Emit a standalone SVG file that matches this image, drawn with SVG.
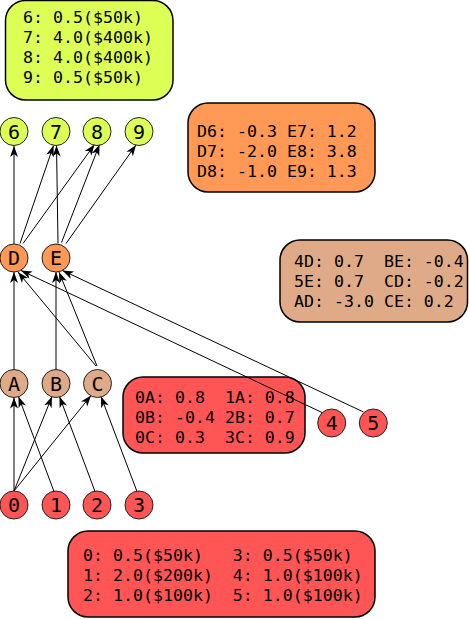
<svg xmlns="http://www.w3.org/2000/svg" width="469" height="619" viewBox="0 0 469 619">
<style>
.box{stroke:#000;stroke-width:1.5}
.bt{font-family:"DejaVu Sans Mono","Liberation Mono",monospace;font-size:16.6px;fill:#000;white-space:pre}
.nd{stroke:#222;stroke-width:1}
.nt{font-family:"DejaVu Sans Mono","Liberation Mono",monospace;font-size:20px;fill:#000;text-anchor:middle}
.e{stroke:#000;stroke-width:1;fill:none;marker-end:url(#ah)}
.yg{fill:#ddff55}.or{fill:#ff9955}.tn{fill:#deaa87}.rd{fill:#ff5555}
</style>
<defs>
<marker id="ah" markerUnits="userSpaceOnUse" viewBox="-12 -5 13 10" refX="0" refY="0" markerWidth="13" markerHeight="10" orient="auto">
<path d="M0,0 L-11,-4 L-8,0 L-11,4 Z" fill="#000"/>
</marker>
</defs>

<g id="legend-outputs">
<rect class="box yg" x="5.5" y="0.5" width="167.5" height="99.5" rx="20"/>
<text class="bt" x="23" y="23.3">6: 0.5($50k)</text>
<text class="bt" x="23" y="43.3">7: 4.0($400k)</text>
<text class="bt" x="23" y="63.3">8: 4.0($400k)</text>
<text class="bt" x="23" y="83.3">9: 0.5($50k)</text>
</g>
<g id="weights-DE">
<rect class="box or" x="188" y="103" width="187" height="89" rx="20"/>
<text class="bt" x="197" y="136.7">D6: -0.3 E7: 1.2</text>
<text class="bt" x="197" y="156.7">D7: -2.0 E8: 3.8</text>
<text class="bt" x="197" y="176.7">D8: -1.0 E9: 1.3</text>
</g>
<g id="weights-hidden">
<rect class="box tn" x="280" y="240" width="187.5" height="82" rx="20"/>
<text class="bt" x="294" y="266.7">4D: 0.7  BE: -0.4</text>
<text class="bt" x="294" y="286.7">5E: 0.7  CD: -0.2</text>
<text class="bt" x="294" y="306.7">AD: -3.0 CE: 0.2</text>
</g>
<g id="weights-input">
<rect class="box rd" x="123" y="377" width="182" height="76" rx="20"/>
<text class="bt" x="135" y="402.7">0A: 0.8  1A: 0.8</text>
<text class="bt" x="135" y="422.7">0B: -0.4 2B: 0.7</text>
<text class="bt" x="135" y="442.7">0C: 0.3  3C: 0.9</text>
</g>
<g id="legend-inputs">
<rect class="box rd" x="68" y="531" width="307" height="86" rx="20"/>
<text class="bt" x="83" y="561">0: 0.5($50k)   3: 0.5($50k)</text>
<text class="bt" x="83" y="581">1: 2.0($200k)  4: 1.0($100k)</text>
<text class="bt" x="83" y="601">2: 1.0($100k)  5: 1.0($100k)</text>
</g>

<g id="connectors">
<line class="e" x1="14" y1="491" x2="14" y2="397.5"/>
<line class="e" x1="14" y1="491" x2="52" y2="396.5"/>
<line class="e" x1="14" y1="491" x2="91" y2="395.5"/>
<line class="e" x1="54" y1="491.5" x2="18.5" y2="396.5"/>
<line class="e" x1="95" y1="491.5" x2="59.5" y2="396.5"/>
<line class="e" x1="137" y1="491.5" x2="101" y2="396.5"/>
<line class="e" x1="14" y1="369.5" x2="14" y2="272"/>
<line class="e" x1="56" y1="369.5" x2="56" y2="272"/>
<line class="e" x1="96" y1="366" x2="18" y2="272"/>
<line class="e" x1="97" y1="366" x2="59" y2="272"/>
<line class="e" x1="322" y1="412.5" x2="21" y2="270.5"/>
<line class="e" x1="363.5" y1="412" x2="62.5" y2="270.5"/>
<line class="e" x1="14" y1="244.5" x2="14" y2="146"/>
<line class="e" x1="20" y1="243.5" x2="53.5" y2="145.5"/>
<line class="e" x1="23" y1="243.5" x2="94.5" y2="144.5"/>
<line class="e" x1="58" y1="243.5" x2="56.5" y2="145.5"/>
<line class="e" x1="61.5" y1="242.5" x2="99.5" y2="144.5"/>
<line class="e" x1="66" y1="243.5" x2="136" y2="145"/>
</g>

<g id="n6"><circle class="nd yg" cx="14" cy="131.5" r="14"/><text class="nt" x="14" y="138.8">6</text></g>
<g id="n7"><circle class="nd yg" cx="56" cy="131.5" r="14"/><text class="nt" x="56" y="138.8">7</text></g>
<g id="n8"><circle class="nd yg" cx="97" cy="131.5" r="14"/><text class="nt" x="97" y="138.8">8</text></g>
<g id="n9"><circle class="nd yg" cx="139" cy="131.5" r="14"/><text class="nt" x="139" y="138.8">9</text></g>
<g id="nD"><circle class="nd or" cx="14" cy="258" r="14"/><text class="nt" x="14" y="265.3">D</text></g>
<g id="nE"><circle class="nd or" cx="56" cy="258" r="14"/><text class="nt" x="56" y="265.3">E</text></g>
<g id="nA"><circle class="nd tn" cx="14" cy="383.5" r="14"/><text class="nt" x="14" y="390.8">A</text></g>
<g id="nB"><circle class="nd tn" cx="56" cy="383.5" r="14"/><text class="nt" x="56" y="390.8">B</text></g>
<g id="nC"><circle class="nd tn" cx="97.5" cy="383.5" r="14"/><text class="nt" x="97.5" y="390.8">C</text></g>
<g id="n4"><circle class="nd rd" cx="331.7" cy="423" r="14"/><text class="nt" x="331.7" y="430.3">4</text></g>
<g id="n5"><circle class="nd rd" cx="373.3" cy="423" r="14"/><text class="nt" x="373.3" y="430.3">5</text></g>
<g id="n0"><circle class="nd rd" cx="14" cy="505" r="14"/><text class="nt" x="14" y="512.3">0</text></g>
<g id="n1"><circle class="nd rd" cx="56" cy="505" r="14"/><text class="nt" x="56" y="512.3">1</text></g>
<g id="n2"><circle class="nd rd" cx="97" cy="505" r="14"/><text class="nt" x="97" y="512.3">2</text></g>
<g id="n3"><circle class="nd rd" cx="139" cy="505" r="14"/><text class="nt" x="139" y="512.3">3</text></g>
</svg>
